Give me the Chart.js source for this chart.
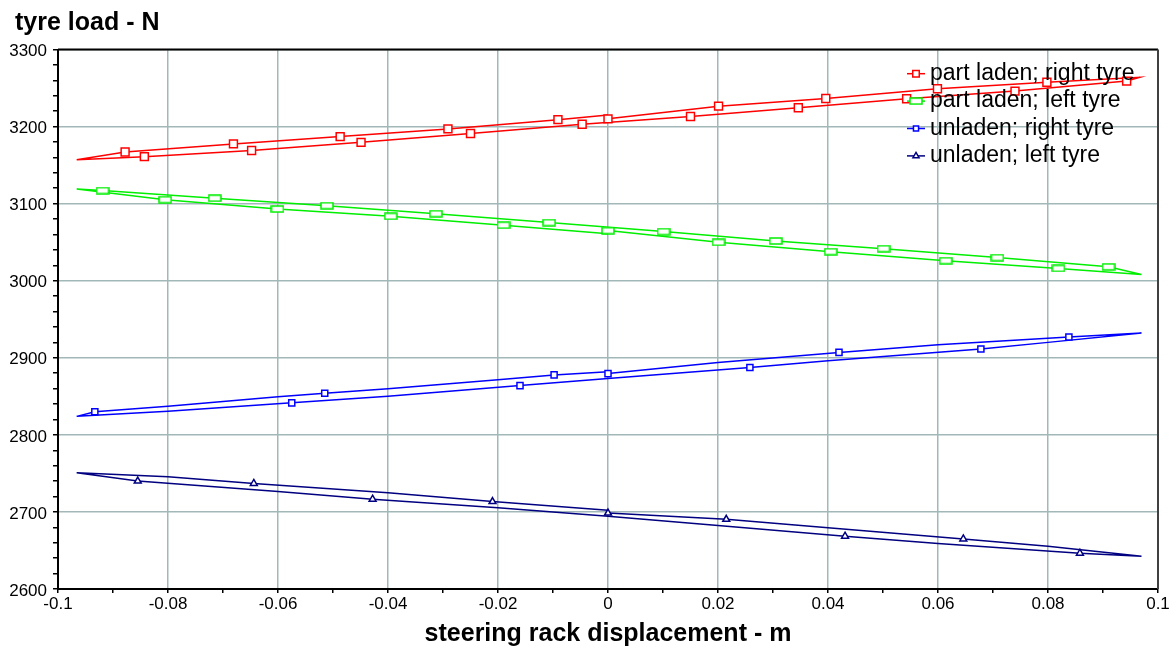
<!DOCTYPE html>
<html lang="en">
<head>
    <meta charset="UTF-8">
    <title>Tyre load vs steering rack displacement</title>
    <script src="https://cdn.jsdelivr.net/npm/chart.js"></script>
    <style>
        html, body { margin: 0; padding: 0; background: #ffffff; }
        #loadChart { display: block; }
    </style>
</head>
<body>
    <canvas id="loadChart" width="1176" height="649"></canvas>

    <script>
        // Series names, in legend order
        const seriesNames = ['part laden; right tyre', 'part laden; left tyre', 'unladen; right tyre', 'unladen; left tyre'];

        // Axis tick labels (minor ticks sit between these)
        const xTickLabels = ['-0.1', '-0.08', '-0.06', '-0.04', '-0.02', '0', '0.02', '0.04', '0.06', '0.08', '0.1'];
        const yTickLabels = ['2600', '2700', '2800', '2900', '3000', '3100', '3200', '3300'];

        // Each loop: rack displacement (m) and tyre load (N) in sweep order,
        // plus a flag for the samples that carry a symbol
        const partRightX = [0.0, 0.0201, 0.0396, 0.0599, 0.0798, 0.0967, 0.0943, 0.0740, 0.0543, 0.0346, 0.0150, -0.0047, -0.0250, -0.0449, -0.0648, -0.0843, -0.0966, -0.0878, -0.0681, -0.0487, -0.0291, -0.0091, 0.0];
        const partRightY = [3210, 3226.5, 3236.5, 3249, 3257.5, 3264, 3259, 3246, 3236, 3224.5, 3213, 3203, 3191, 3179.5, 3169, 3161, 3157, 3167, 3177.5, 3187, 3197, 3209, 3215];
        const partRightMarked = [1, 1, 1, 1, 1, 0, 1, 1, 1, 1, 1, 1, 1, 1, 1, 1, 0, 1, 1, 1, 1, 1, 0];

        const partLeftX = [0.0, 0.0201, 0.0405, 0.0614, 0.0819, 0.0970, 0.0910, 0.0708, 0.0501, 0.0305, 0.0101, -0.0107, -0.0313, -0.0511, -0.0715, -0.0919, -0.0966, -0.0805, -0.0601, -0.0395, -0.0190, 0.0];
        const partLeftY = [3065, 3049.8, 3037.7, 3026, 3016, 3008, 3018, 3030, 3041.6, 3051.6, 3063.7, 3075.4, 3087, 3097.4, 3107, 3117, 3119, 3105.2, 3093, 3083.5, 3072, 3061];
        const partLeftMarked = [1, 1, 1, 1, 1, 0, 1, 1, 1, 1, 1, 1, 1, 1, 1, 1, 0, 1, 1, 1, 1, 0];

        const unRightX = [0.0, 0.02, 0.042, 0.06, 0.0838, 0.097, 0.08, 0.0678, 0.04, 0.0258, 0.0, -0.016, -0.04, -0.0575, -0.08, -0.0966, -0.0933, -0.08, -0.06, -0.0515, -0.04, -0.02, -0.0098, 0.0];
        const unRightY = [2879.5, 2894, 2907, 2917, 2927, 2932.3, 2920, 2911.5, 2896, 2887.3, 2873, 2863.9, 2850, 2841.5, 2830.6, 2824, 2830, 2837, 2849.3, 2853.9, 2859.7, 2871.5, 2877.8, 2882];
        const unRightMarked = [1, 0, 1, 0, 1, 0, 0, 1, 0, 1, 0, 1, 0, 1, 0, 0, 1, 0, 0, 1, 0, 0, 1, 0];

        const unLeftX = [0.0, 0.0215, 0.04, 0.0646, 0.08, 0.097, 0.0858, 0.06, 0.0431, 0.02, 0.0, -0.02, -0.0428, -0.06, -0.0855, -0.0966, -0.08, -0.0644, -0.04, -0.021, 0.0];
        const unLeftY = [2698.5, 2690.5, 2679.4, 2665, 2655.5, 2642.5, 2646.5, 2659, 2668.5, 2682.4, 2694.4, 2705.3, 2716.5, 2726.5, 2740, 2750.7, 2745.5, 2737, 2724.8, 2713.5, 2702.2];
        const unLeftMarked = [1, 1, 0, 1, 0, 0, 1, 0, 1, 0, 0, 0, 1, 0, 1, 0, 0, 1, 0, 1, 0];

        const FONT = '"Liberation Sans", Arial, Helvetica, sans-serif';
        const GRID = '#a2b7b7';

        Chart.defaults.font.family = FONT;
        Chart.defaults.color = '#000000';

        // flat green marker is a short wide box, so it is drawn to a small canvas
        function boxMarker(w, h, color) {
            const c = document.createElement('canvas');
            c.width = w + 2;
            c.height = h + 2;
            const g = c.getContext('2d');
            g.fillStyle = '#ffffff';
            g.fillRect(1, 1, w, h);
            g.strokeStyle = color;
            g.lineWidth = 1.5;
            g.strokeRect(1, 1, w, h);
            return c;
        }

        function toPoints(xs, ys) {
            return xs.map((x, i) => ({ x: x, y: ys[i] }));
        }

        function makeSeries(label, xs, ys, marked, color, style, radius, legendRadius) {
            return {
                label: label,
                data: toPoints(xs, ys),
                showLine: true,
                borderColor: color,
                borderWidth: 1.5,
                tension: 0,
                pointStyle: style,
                pointRadius: ctx => marked[ctx.dataIndex] ? radius : 0,
                pointHoverRadius: ctx => marked[ctx.dataIndex] ? radius : 0,
                pointBorderColor: color,
                pointBackgroundColor: '#ffffff',
                pointBorderWidth: 1.5,
                legendRadius: legendRadius
            };
        }

        // major ticks from the label lists, evenly split minor ticks between them
        function buildTicks(labels, parts) {
            const majors = labels.map(Number);
            const ticks = [];
            for (let i = 0; i < majors.length; i++) {
                ticks.push({ value: majors[i] });
                if (i < majors.length - 1) {
                    const step = (majors[i + 1] - majors[i]) / parts;
                    for (let k = 1; k < parts; k++) ticks.push({ value: majors[i] + k * step });
                }
            }
            return ticks;
        }

        function majorLabel(labels, value) {
            const hit = labels.find(l => Math.abs(Number(l) - value) < 1e-9);
            return hit === undefined ? '' : hit;
        }

        // top and right edges of the plot frame, and the y caption above the axis
        const plotFrame = {
            id: 'plotFrame',
            beforeDatasetsDraw(chart) {
                const { ctx, chartArea: a } = chart;
                ctx.save();
                ctx.lineWidth = 2;
                ctx.strokeStyle = '#000000';
                ctx.beginPath();
                ctx.moveTo(a.left, a.top);
                ctx.lineTo(a.right, a.top);
                ctx.stroke();
                ctx.strokeStyle = '#404040';
                ctx.beginPath();
                ctx.moveTo(a.right, a.top);
                ctx.lineTo(a.right, a.bottom);
                ctx.stroke();

                ctx.fillStyle = '#000000';
                ctx.font = 'bold 25px ' + FONT;
                ctx.textBaseline = 'middle';
                ctx.textAlign = 'left';
                ctx.fillText('tyre load - N', 15, 23);
                ctx.restore();
            }
        };

        // legend drawn inside the plot, top right, over the lines
        const insideLegend = {
            id: 'insideLegend',
            afterDatasetsDraw(chart) {
                const { ctx, chartArea: a } = chart;
                const x0 = a.right - 251;
                ctx.save();
                ctx.font = '23px ' + FONT;
                ctx.textBaseline = 'middle';
                ctx.textAlign = 'left';
                chart.data.datasets.forEach((ds, i) => {
                    const y = a.top + 24.2 + i * 27.4;
                    ctx.strokeStyle = ds.borderColor;
                    ctx.lineWidth = 1.5;
                    ctx.beginPath();
                    ctx.moveTo(x0, y);
                    ctx.lineTo(x0 + 18, y);
                    ctx.stroke();
                    ctx.fillStyle = '#ffffff';
                    Chart.helpers.drawPoint(ctx, {
                        pointStyle: ds.pointStyle,
                        radius: ds.legendRadius,
                        borderWidth: 1.5,
                        rotation: 0
                    }, x0 + 9, y);
                    ctx.fillStyle = '#000000';
                    ctx.fillText(ds.label, x0 + 23, y);
                });
                ctx.restore();
            }
        };

        const datasets = [
            makeSeries(seriesNames[0], partRightX, partRightY, partRightMarked, '#ff0000', 'rect', 5.6, 4.6),
            makeSeries(seriesNames[1], partLeftX, partLeftY, partLeftMarked, '#00ee00', boxMarker(12, 6, '#00ee00'), 5, 4),
            makeSeries(seriesNames[2], unRightX, unRightY, unRightMarked, '#0000ff', 'rect', 4.3, 3.6),
            makeSeries(seriesNames[3], unLeftX, unLeftY, unLeftMarked, '#000080', 'triangle', 4, 3.5)
        ];

        new Chart(document.getElementById('loadChart'), {
            type: 'scatter',
            data: { datasets: datasets },
            plugins: [plotFrame, insideLegend],
            options: {
                responsive: false,
                animation: false,
                events: [],
                layout: { padding: { left: 0, right: 18, top: 49.5, bottom: 0 } },
                plugins: {
                    legend: { display: false },
                    tooltip: { enabled: false }
                },
                scales: {
                    x: {
                        type: 'linear',
                        min: -0.1,
                        max: 0.1,
                        afterBuildTicks: scale => { scale.ticks = buildTicks(xTickLabels, 2); },
                        afterFit: scale => { scale.height = 60; },
                        ticks: {
                            autoSkip: false,
                            maxRotation: 0,
                            padding: 1,
                            font: { size: 17 },
                            callback: value => majorLabel(xTickLabels, value)
                        },
                        grid: {
                            color: ctx => majorLabel(xTickLabels, ctx.tick.value) !== '' ? GRID : 'rgba(0,0,0,0)',
                            lineWidth: 1.5,
                            tickColor: '#000000',
                            tickLength: 4
                        },
                        border: { color: '#000000', width: 2 },
                        title: {
                            display: true,
                            text: 'steering rack displacement - m',
                            color: '#000000',
                            font: { size: 25, weight: 'bold' },
                            padding: { top: 0, bottom: 0 }
                        }
                    },
                    y: {
                        type: 'linear',
                        min: 2600,
                        max: 3300,
                        afterBuildTicks: scale => { scale.ticks = buildTicks(yTickLabels, 5); },
                        afterFit: scale => { scale.width = 58; },
                        ticks: {
                            autoSkip: false,
                            padding: 6,
                            labelOffset: 2,
                            font: { size: 17 },
                            callback: value => majorLabel(yTickLabels, value)
                        },
                        grid: {
                            color: ctx => majorLabel(yTickLabels, ctx.tick.value) !== '' ? GRID : 'rgba(0,0,0,0)',
                            lineWidth: 1.5,
                            tickColor: '#000000',
                            tickLength: 5
                        },
                        border: { color: '#000000', width: 2 }
                    }
                }
            }
        });
    </script>
</body>
</html>
